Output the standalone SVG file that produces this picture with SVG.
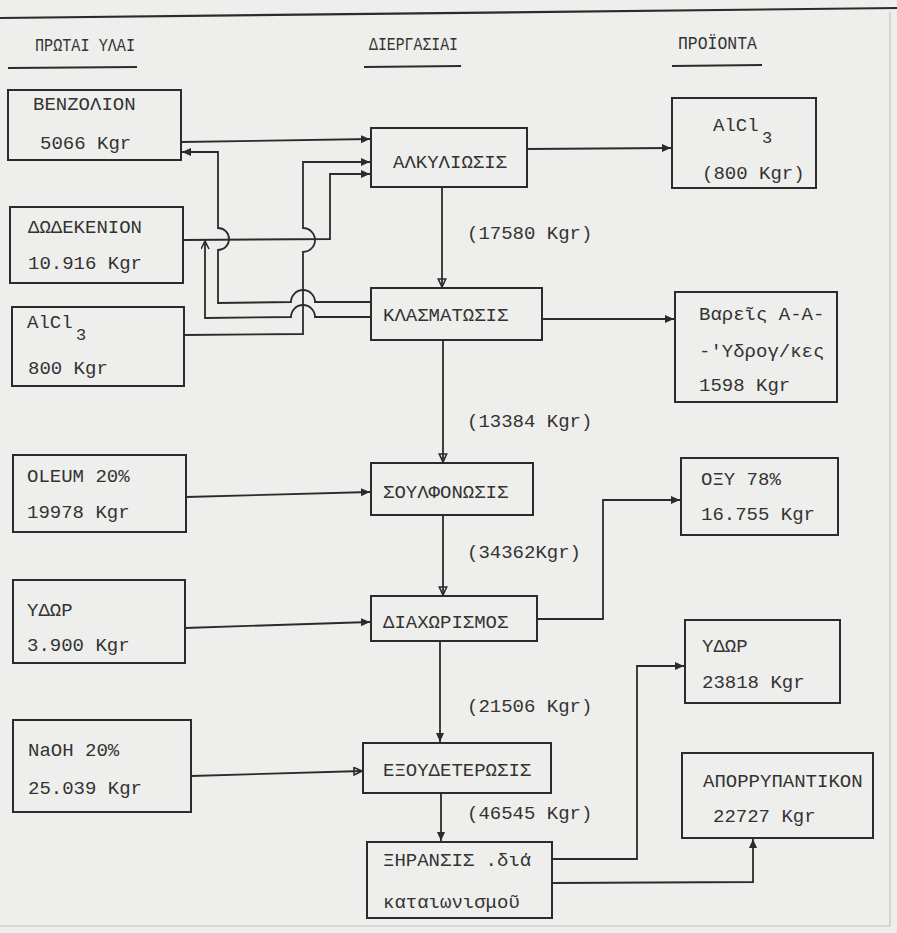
<svg xmlns="http://www.w3.org/2000/svg" width="897" height="933" viewBox="0 0 897 933">
  <defs>
    <style>
      .bg { fill: #eeeeec; }
      .box { fill: none; stroke: #2b2b2b; stroke-width: 2; }
      .rule { stroke: #2b2b2b; stroke-width: 2.2; fill: none; }
      .wire { fill: none; stroke: #2b2b2b; stroke-width: 1.8; stroke-linejoin: miter; }
      .edge { fill: none; stroke: #c4c4c2; stroke-width: 1.2; }
      text { font-family: "Liberation Mono", "DejaVu Sans Mono", monospace; fill: #333333; }
      .t { font-size: 19px; }
      .h { font-size: 18px; }
      .sub { font-size: 17px; }
    </style>
    <marker id="arrow" markerUnits="userSpaceOnUse" markerWidth="12" markerHeight="12" refX="9" refY="4" orient="auto">
      <path d="M0,0 L9,4 L0,8 Z" fill="#2b2b2b"/>
    </marker>
    <marker id="arrowOpen" markerUnits="userSpaceOnUse" markerWidth="12" markerHeight="12" refX="9" refY="4.5" orient="auto">
      <path d="M1,0.8 L9,4.5 L1,8.2 Z" fill="none" stroke="#2b2b2b" stroke-width="1.6"/>
    </marker>
    <marker id="arrowTick" markerUnits="userSpaceOnUse" markerWidth="12" markerHeight="12" refX="9" refY="4.5" orient="auto">
      <path d="M1,0.5 L9,4.5 L1,8.5" fill="none" stroke="#2b2b2b" stroke-width="1.6"/>
    </marker>
  </defs>

  <rect class="bg" x="0" y="0" width="897" height="933"/>
  <!-- paper edge -->
  <path class="edge" d="M890,12 L890,926 L0,926"/>

  <!-- top rule and column headings -->
  <g id="headings">
    <line class="rule" x1="0" y1="18" x2="897" y2="8"/>
    <text class="h" x="35" y="51" textLength="100" lengthAdjust="spacingAndGlyphs">ΠΡΩΤΑΙ ΥΛΑΙ</text>
    <line class="rule" x1="8" y1="68" x2="137" y2="67"/>
    <text class="h" x="369" y="50" textLength="89" lengthAdjust="spacingAndGlyphs">ΔΙΕΡΓΑΣΙΑΙ</text>
    <line class="rule" x1="364" y1="67" x2="461" y2="66"/>
    <text class="h" x="678" y="49" textLength="79" lengthAdjust="spacingAndGlyphs">ΠΡΟΪΟΝΤΑ</text>
    <line class="rule" x1="672" y1="66" x2="762" y2="65"/>
  </g>

  <!-- raw materials -->
  <g id="benzene">
    <rect class="box" x="8" y="90" width="173" height="70"/>
    <text class="t" x="33" y="110">BENZOΛΙΟΝ</text>
    <text class="t" x="40" y="149">5066 Kgr</text>
  </g>
  <g id="dodecene">
    <rect class="box" x="10" y="207" width="173" height="76"/>
    <text class="t" x="28" y="233">ΔΩΔΕΚΕΝΙΟΝ</text>
    <text class="t" x="28" y="269">10.916 Kgr</text>
  </g>
  <g id="alcl3-feed">
    <rect class="box" x="12" y="307" width="172" height="79"/>
    <text class="t" x="27" y="328">AlCl</text>
    <text class="sub" x="76" y="340">3</text>
    <text class="t" x="28" y="374">800 Kgr</text>
  </g>
  <g id="oleum">
    <rect class="box" x="13" y="455" width="173" height="77"/>
    <text class="t" x="27" y="482">OLEUM 20%</text>
    <text class="t" x="27" y="518">19978 Kgr</text>
  </g>
  <g id="water-feed">
    <rect class="box" x="13" y="580" width="172" height="83"/>
    <text class="t" x="27" y="616">ΥΔΩΡ</text>
    <text class="t" x="27" y="651">3.900 Kgr</text>
  </g>
  <g id="naoh">
    <rect class="box" x="13" y="720" width="178" height="92"/>
    <text class="t" x="28" y="756">NaOH 20%</text>
    <text class="t" x="28" y="794">25.039 Kgr</text>
  </g>

  <!-- processes -->
  <g id="alkylation">
    <rect class="box" x="371" y="128" width="156" height="59"/>
    <text class="t" x="393" y="168">ΑΛΚΥΛΙΩΣΙΣ</text>
  </g>
  <g id="fractionation">
    <rect class="box" x="371" y="288" width="171" height="52"/>
    <text class="t" x="383" y="321">ΚΛΑΣΜΑΤΩΣΙΣ</text>
  </g>
  <g id="sulfonation">
    <rect class="box" x="371" y="463" width="162" height="52"/>
    <text class="t" x="383" y="498">ΣΟΥΛΦΟΝΩΣΙΣ</text>
  </g>
  <g id="separation">
    <rect class="box" x="371" y="596" width="166" height="45"/>
    <text class="t" x="383" y="628">ΔΙΑΧΩΡΙΣΜΟΣ</text>
  </g>
  <g id="neutralization">
    <rect class="box" x="363" y="743" width="188" height="50"/>
    <text class="t" x="383" y="776">ΕΞΟΥΔΕΤΕΡΩΣΙΣ</text>
  </g>
  <g id="spray-drying">
    <rect class="box" x="367" y="842" width="185" height="76"/>
    <text class="t" x="383" y="866">ΞΗΡΑΝΣΙΣ .διά</text>
    <text class="t" x="383" y="908">καταιωνισμοῦ</text>
  </g>

  <!-- stream quantities between processes -->
  <g id="flows">
    <text class="t" x="467" y="239">(17580 Kgr)</text>
    <text class="t" x="467" y="427">(13384 Kgr)</text>
    <text class="t" x="467" y="558">(34362Kgr)</text>
    <text class="t" x="467" y="712">(21506 Kgr)</text>
    <text class="t" x="467" y="819">(46545 Kgr)</text>
  </g>

  <!-- products -->
  <g id="alcl3-out">
    <rect class="box" x="672" y="98" width="144" height="90"/>
    <text class="t" x="713" y="131">AlCl</text>
    <text class="sub" x="762" y="143">3</text>
    <text class="t" x="702" y="179">(800 Kgr)</text>
  </g>
  <g id="heavy-hydrocarbons">
    <rect class="box" x="675" y="292" width="162" height="110"/>
    <text class="t" x="699" y="320">Βαρεῖς Α-Α-</text>
    <text class="t" x="699" y="357">-'Υδρογ/κες</text>
    <text class="t" x="699" y="391">1598 Kgr</text>
  </g>
  <g id="acid">
    <rect class="box" x="681" y="458" width="157" height="77"/>
    <text class="t" x="701" y="485">ΟΞΥ 78%</text>
    <text class="t" x="701" y="520">16.755 Kgr</text>
  </g>
  <g id="water-out">
    <rect class="box" x="685" y="620" width="155" height="83"/>
    <text class="t" x="702" y="652">ΥΔΩΡ</text>
    <text class="t" x="702" y="688">23818 Kgr</text>
  </g>
  <g id="detergent">
    <rect class="box" x="682" y="753" width="191" height="85"/>
    <text class="t" x="703" y="787">ΑΠΟΡΡΥΠΑΝΤΙΚΟΝ</text>
    <text class="t" x="713" y="822">22727 Kgr</text>
  </g>

  <!-- connectors -->
  <g id="connectors">
    <!-- feeds into alkylation -->
    <path class="wire" d="M181,142 L370,139" marker-end="url(#arrow)"/>
    <path class="wire" d="M183,240 L330,239 L330,174 L370,174" marker-end="url(#arrow)"/>
    <path class="wire" d="M184,335 L303,334 L303,252 A12,12 0 0 0 303,228 L303,162 L370,162" marker-end="url(#arrow)"/>
    <!-- recycle streams from fractionation -->
    <path class="wire" d="M371,302 L315,302 A12,12 0 0 0 291,302 L218,303 L218,250 A11,11 0 0 0 218,228 L218,152 L182,152" marker-end="url(#arrow)"/>
    <path class="wire" d="M371,317 L315,317 A12,12 0 0 0 291,317 L205,318 L205,241" marker-end="url(#arrowTick)"/>
    <!-- main process line -->
    <path class="wire" d="M442,187 L442,287" marker-end="url(#arrowOpen)"/>
    <path class="wire" d="M443,340 L443,462" marker-end="url(#arrowOpen)"/>
    <path class="wire" d="M443,515 L443,595" marker-end="url(#arrowOpen)"/>
    <path class="wire" d="M440,641 L440,742" marker-end="url(#arrow)"/>
    <path class="wire" d="M441,793 L441,841" marker-end="url(#arrow)"/>
    <!-- side feeds -->
    <path class="wire" d="M186,497 L370,492" marker-end="url(#arrow)"/>
    <path class="wire" d="M185,628 L370,622" marker-end="url(#arrow)"/>
    <path class="wire" d="M191,776 L362,771" marker-end="url(#arrowOpen)"/>
    <!-- outputs -->
    <path class="wire" d="M527,149 L671,148" marker-end="url(#arrow)"/>
    <path class="wire" d="M542,319 L674,319" marker-end="url(#arrow)"/>
    <path class="wire" d="M537,619 L603,619 L603,500 L680,500" marker-end="url(#arrow)"/>
    <path class="wire" d="M552,859 L637,859 L637,666 L684,666" marker-end="url(#arrow)"/>
    <path class="wire" d="M552,883 L753,882 L753,839" marker-end="url(#arrow)"/>
  </g>
</svg>
